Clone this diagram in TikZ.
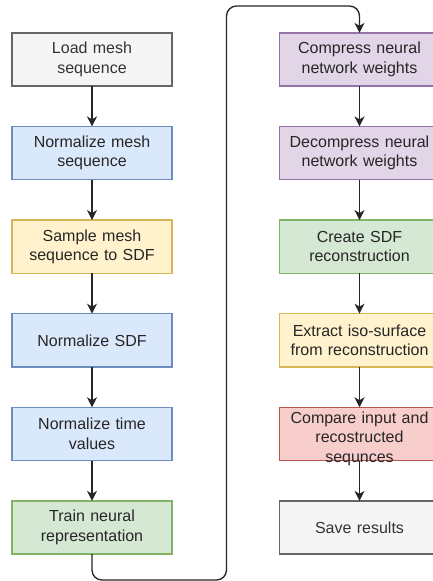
\documentclass[tikz,border=0pt]{standalone}
\usepackage{fontspec}
\setmainfont{Liberation Sans}
\usetikzlibrary{positioning,arrows.meta,calc}
\definecolor{GreyFill}{HTML}{F5F5F5}
\definecolor{GreyLine}{HTML}{666666}
\definecolor{GreyText}{HTML}{333333}
\definecolor{BlueFill}{HTML}{DAE8FC}
\definecolor{BlueLine}{HTML}{6C8EBF}
\definecolor{YellowFill}{HTML}{FFF2CC}
\definecolor{YellowLine}{HTML}{D6B656}
\definecolor{GreenFill}{HTML}{D5E8D4}
\definecolor{GreenLine}{HTML}{82B366}
\definecolor{PurpleFill}{HTML}{E1D5E7}
\definecolor{PurpleLine}{HTML}{9673A6}
\definecolor{RedFill}{HTML}{F8CECC}
\definecolor{RedLine}{HTML}{B85450}
\tikzset{
  flow/.style={-{Stealth[length=10pt,width=10pt,inset=3pt]},line width=1.33pt,draw=black!85},
  box/.style={line width=1.33pt,outer sep=0pt,text width=156pt,inner xsep=2pt,inner ysep=0pt,
    minimum height=53.3pt,align=center,font=\fontsize{16}{19.3}\selectfont},
  greybox/.style={box,draw=GreyLine,fill=GreyFill,text=GreyText},
  bluebox/.style={box,draw=BlueLine,fill=BlueFill,text=black!85},
  yellowbox/.style={box,draw=YellowLine,fill=YellowFill,text=black!85},
  greenbox/.style={box,draw=GreenLine,fill=GreenFill,text=black!85},
  purplebox/.style={box,draw=PurpleLine,fill=PurpleFill,text=black!85},
  redbox/.style={box,draw=RedLine,fill=RedFill,text=black!85}
}
\begin{document}
\begin{tikzpicture}[x=1pt,y=-1pt,node distance=40.3pt]
  \useasboundingbox[fill=white] (0,0) rectangle (432,581);

  % left column
  \node[greybox] (load) at (92,59.5) {Load mesh\\sequence};
  \node[bluebox,below=of load] (normmesh) {Normalize mesh\\sequence};
  \node[yellowbox,below=of normmesh] (sample) {Sample mesh\\sequence to SDF};
  \node[bluebox,below=of sample] (normsdf) {Normalize SDF};
  \node[bluebox,below=of normsdf] (normtime) {Normalize time\\values};
  \node[greenbox,below=of normtime] (train) {Train neural\\representation};

  % right column
  \node[purplebox,right=107.5pt of load] (compress) {Compress neural\\network weights};
  \node[purplebox,below=of compress] (decompress) {Decompress neural\\network weights};
  \node[greenbox,below=of decompress] (create) {Create SDF\\reconstruction};
  \node[yellowbox,below=of create] (extract) {Extract iso-surface\\from reconstruction};
  \node[redbox,below=of extract,minimum height=53.3pt,text height=11pt,text depth=32pt] (compare) {Compare input and\\recostructed\\sequnces};
  \node[greybox,below=of compare] (save) {Save results};

  \draw[flow] (load) -- (normmesh);
  \draw[flow] (normmesh) -- (sample);
  \draw[flow] (sample) -- (normsdf);
  \draw[flow] (normsdf) -- (normtime);
  \draw[flow] (normtime) -- (train);

  % loop over to the second column
  \coordinate (loopbot) at (226.5,580);
  \coordinate (looptop) at (226.5,6);
  \draw[flow,rounded corners=10pt] (train.south) |- (loopbot) -- (looptop) -| (compress.north);

  \draw[flow] (compress) -- (decompress);
  \draw[flow] (decompress) -- (create);
  \draw[flow] (create) -- (extract);
  \draw[flow] (extract) -- (compare);
  \draw[flow] (compare) -- (save);
\end{tikzpicture}
\end{document}
